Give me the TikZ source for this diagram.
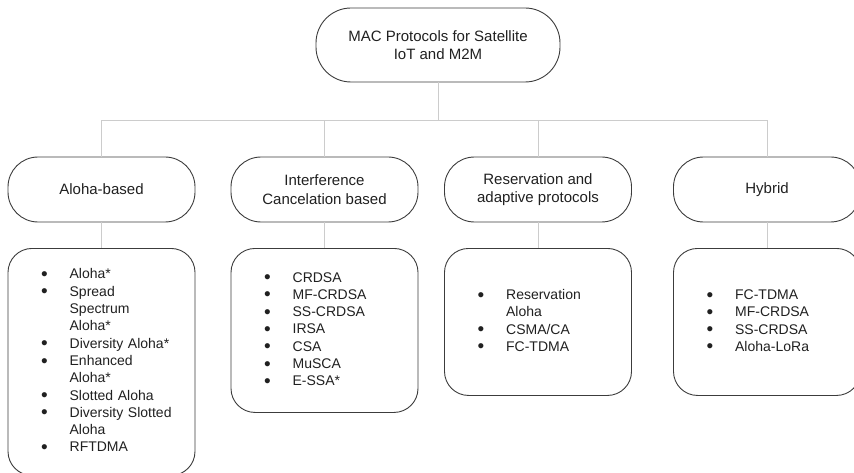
\documentclass[tikz,border=0pt]{standalone}
\usepackage{fontspec}
\setmainfont{Liberation Sans}
\usetikzlibrary{positioning}

\definecolor{edgegray}{HTML}{CCCCCC}
\definecolor{boxline}{HTML}{3C3C3C}
\definecolor{ink}{HTML}{202020}

% one bulleted row, and a wrapped continuation row
\newcommand{\bul}{\raisebox{-1.6pt}{\fontsize{19}{17.3}\selectfont\textbullet}}
\newcommand{\itm}[1]{\bul & #1\\}
\newcommand{\cont}[1]{& #1\\}

\begin{document}
\begin{tikzpicture}[x=1pt,y=-1pt,
  pill/.style={draw=boxline, line width=0.9pt, rounded corners=30pt,
    minimum width=187pt, minimum height=65pt, inner sep=0pt, text=ink,
    align=center, font=\fontsize{15}{18.5}\selectfont},
  listbox/.style={draw=boxline, line width=0.9pt, rounded corners=24pt,
    anchor=north, text width=187pt, inner xsep=0pt, align=left, text=ink,
    font=\fontsize{14}{17.3}\selectfont},
  conn/.style={draw=edgegray, line width=0.8pt}]

  \useasboundingbox (0,0) rectangle (854,473);
  \clip (0,0) rectangle (854,473);

  % Root
  \node[pill, minimum width=244pt, minimum height=74pt, rounded corners=35pt]
    (root) at (438,45) {MAC Protocols for Satellite\\IoT and M2M};
  \coordinate (bus) at (438,120);

  % Categories
  \node[pill] (aloha) at (101.5,189.5) {Aloha-based};
  \node[pill] (ic)    at (324.5,189.5) {Interference\\Cancelation based};
  \node[pill] (resv)  at (538,189.5)   {Reservation and\\adaptive protocols};
  \node[pill] (hyb)   at (767,189.5)   {Hybrid};

  % Protocol lists
  \node[listbox, minimum height=227pt] (alohalist) at (101.5,248) {%
    \hspace*{33pt}\begin{tabular}{@{}l@{\hspace{22pt}}l@{}}
      \itm{Aloha*}
      \itm{Spread}
      \cont{Spectrum}
      \cont{Aloha*}
      \itm{Diversity Aloha*}
      \itm{Enhanced}
      \cont{Aloha*}
      \itm{Slotted Aloha}
      \itm{Diversity Slotted}
      \cont{Aloha}
      \itm{RFTDMA}
    \end{tabular}};
  \node[listbox, minimum height=164pt] (iclist) at (324.5,248) {%
    \hspace*{33pt}\begin{tabular}{@{}l@{\hspace{22pt}}l@{}}
      \itm{CRDSA}
      \itm{MF-CRDSA}
      \itm{SS-CRDSA}
      \itm{IRSA}
      \itm{CSA}
      \itm{MuSCA}
      \itm{E-SSA*}
    \end{tabular}};
  \node[listbox, minimum height=147pt] (resvlist) at (538,248) {%
    \hspace*{33pt}\begin{tabular}{@{}l@{\hspace{22pt}}l@{}}
      \itm{Reservation}
      \cont{Aloha}
      \itm{CSMA/CA}
      \itm{FC-TDMA}
    \end{tabular}};
  \node[listbox, minimum height=147pt] (hyblist) at (767,248) {%
    \hspace*{33pt}\begin{tabular}{@{}l@{\hspace{22pt}}l@{}}
      \itm{FC-TDMA}
      \itm{MF-CRDSA}
      \itm{SS-CRDSA}
      \itm{Aloha-LoRa}
    \end{tabular}};

  % Tree connectors
  \draw[conn] (root.south) -- (bus);
  \foreach \c in {aloha,ic,resv,hyb}
    \draw[conn] (bus) -| (\c.north);
  \draw[conn] (aloha.south) -- (alohalist.north);
  \draw[conn] (ic.south) -- (iclist.north);
  \draw[conn] (resv.south) -- (resvlist.north);
  \draw[conn] (hyb.south) -- (hyblist.north);
\end{tikzpicture}
\end{document}
